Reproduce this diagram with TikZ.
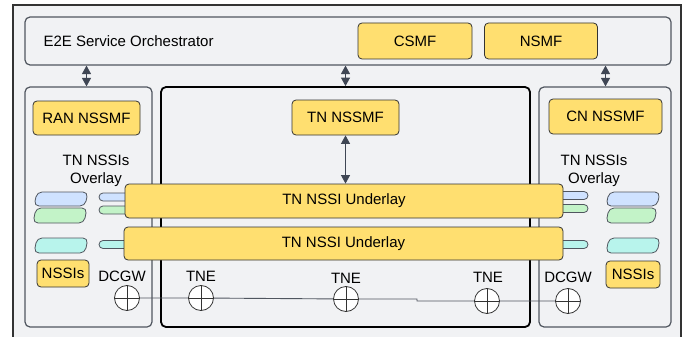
\documentclass[tikz,border=0pt]{standalone}
\usepackage{fontspec}
\setmainfont{Liberation Sans}
\usetikzlibrary{arrows.meta}

\definecolor{panelgray}{HTML}{F1F2F4}
\definecolor{nfyellow}{HTML}{FFDF70}
\definecolor{edgedark}{HTML}{333333}
\definecolor{regionline}{HTML}{50565F}
\definecolor{arrowgray}{HTML}{3F4654}
\definecolor{ovblue}{HTML}{CFE2FF}
\definecolor{ovgreen}{HTML}{C3F3C8}
\definecolor{ovcyan}{HTML}{B8F4EC}

\tikzset{
  nf/.style={rectangle, rounded corners=4pt, draw=edgedark, fill=nfyellow, line width=0.8pt, inner sep=0pt},
  region/.style={rectangle, rounded corners=5pt, draw=regionline, line width=1.2pt, inner sep=0pt},
  biarrow/.style={draw=arrowgray, line width=1pt, {Triangle[length=8.5pt,width=9pt]}-{Triangle[length=8.5pt,width=9pt]}},
  pill/.style={rectangle, rounded corners=4pt, draw=regionline, line width=0.8pt, inner sep=0pt, minimum height=8pt},
  ovshape/.style={draw=regionline, line width=0.8pt, rounded corners=5pt},
  netel/.style={circle, draw=edgedark, fill=white, line width=0.8pt, minimum size=25pt, inner sep=0pt,
    path picture={\draw[edgedark, line width=0.6pt] (path picture bounding box.north) -- (path picture bounding box.south)
      (path picture bounding box.west) -- (path picture bounding box.east);}},
  link/.style={draw=regionline, line width=0.9pt}
}

\begin{document}
\begin{tikzpicture}[x=1pt, y=-1pt, font=\fontsize{15}{18}\selectfont]
  \useasboundingbox (0,0) rectangle (683,337);
  \fill[white] (0,0) rectangle (683,337);
  \fill[panelgray] (13,5) rectangle (681,345);
  \draw[edgedark, line width=1.5pt] (13,345) -- (13,5) -- (681,5) -- (681,345);

  % orchestrator
  \node[region, minimum width=646pt, minimum height=48pt] (orch) at (348,41) {};
  \node[anchor=west] (e2e) at (40,41) {E2E Service Orchestrator};
  \node[nf, minimum width=114pt, minimum height=36pt] (csmf) at (415,41) {CSMF};
  \node[nf, minimum width=113pt, minimum height=36pt] (nsmf) at (541,41) {NSMF};

  % domains
  \node[region, minimum width=127pt, minimum height=240pt] (ran) at (88.5,207) {};
  \node[region, draw=black, line width=1.8pt, minimum width=369pt, minimum height=240pt] (tn) at (345.5,207) {};
  \node[region, minimum width=132pt, minimum height=240pt] (cn) at (605,207) {};

  \node[nf, minimum width=107pt, minimum height=34pt] (ranmgr) at (86.5,118) {RAN NSSMF};
  \node[nf, minimum width=107pt, minimum height=35pt] (tnmgr) at (345.5,117.5) {TN NSSMF};
  \node[nf, minimum width=113pt, minimum height=35pt] (cnmgr) at (605.5,116.5) {CN NSSMF};

  \draw[biarrow] (ranmgr |- orch.south) -- (ranmgr |- ran.north);
  \draw[biarrow] (tnmgr |- orch.south) -- (tnmgr |- tn.north);
  \draw[biarrow] (cnmgr |- orch.south) -- (cnmgr |- cn.north);

  \node[align=center] (ovlL) at (96,171) {TN NSSIs\\Overlay};
  \node[align=center] (ovlR) at (594,171) {TN NSSIs\\Overlay};

  % overlay slices
  \draw[ovshape, fill=ovblue] (37,192) -- (88,192) -- (85,206) -- (34,206) -- cycle;
  \draw[ovshape, fill=ovgreen] (36,208) -- (87,208) -- (84,223) -- (33,223) -- cycle;
  \draw[ovshape, fill=ovcyan] (37,238) -- (88,238) -- (85,253) -- (34,253) -- cycle;
  \draw[ovshape, fill=ovblue] (609,192) -- (660,192) -- (657,206) -- (606,206) -- cycle;
  \draw[ovshape, fill=ovgreen] (609,208) -- (657,208) -- (654,223) -- (606,223) -- cycle;
  \draw[ovshape, fill=ovcyan] (609,238) -- (660,238) -- (657,253) -- (606,253) -- cycle;

  \node[nf, minimum width=52pt, minimum height=27pt] (nssiL) at (63,273.5) {NSSIs};
  \node[nf, minimum width=54pt, minimum height=27pt] (nssiR) at (633,274.5) {NSSIs};

  % pills under the underlay
  \node[pill, fill=ovblue, minimum width=36pt] (pbL) at (117,197) {};
  \node[pill, fill=ovgreen, minimum width=36pt] (pgL) at (117,210) {};
  \node[pill, fill=ovcyan, minimum width=36pt] (pcL) at (117,244.5) {};
  \node[pill, fill=ovblue, minimum width=36pt] (pbR) at (570,195.5) {};
  \node[pill, fill=ovgreen, minimum width=36pt] (pgR) at (570,208.5) {};
  \node[pill, fill=ovcyan, minimum width=36pt] (pcR) at (570,244.5) {};

  \node[nf, minimum width=438pt, minimum height=34pt] (under1) at (344,201) {TN NSSI Underlay};
  \node[nf, minimum width=439pt, minimum height=33pt] (under2) at (343.5,243.5) {TN NSSI Underlay};

  \draw[biarrow] (tnmgr.south) -- (tnmgr |- under1.north);

  % transport elements
  \coordinate (jogA) at (417,299);
  \coordinate (jogB) at (417,301);
  \node[netel] (dcgwL) at (127,298) {};
  \node[netel] (tne1) at (201,298) {};
  \node[netel] (tne2) at (346,299) {};
  \node[netel] (tne3) at (487,301) {};
  \node[netel] (dcgwR) at (568,301) {};
  \draw[link] (dcgwL) -- (tne1) -- (tne2) -- (jogA) -- (jogB) -- (tne3) -- (dcgwR);

  \node (dcgwLlab) at (122,276) {DCGW};
  \node (tne1lab) at (201,276) {TNE};
  \node (tne2lab) at (346,278) {TNE};
  \node (tne3lab) at (488,277) {TNE};
  \node (dcgwRlab) at (568,277) {DCGW};
\end{tikzpicture}
\end{document}
